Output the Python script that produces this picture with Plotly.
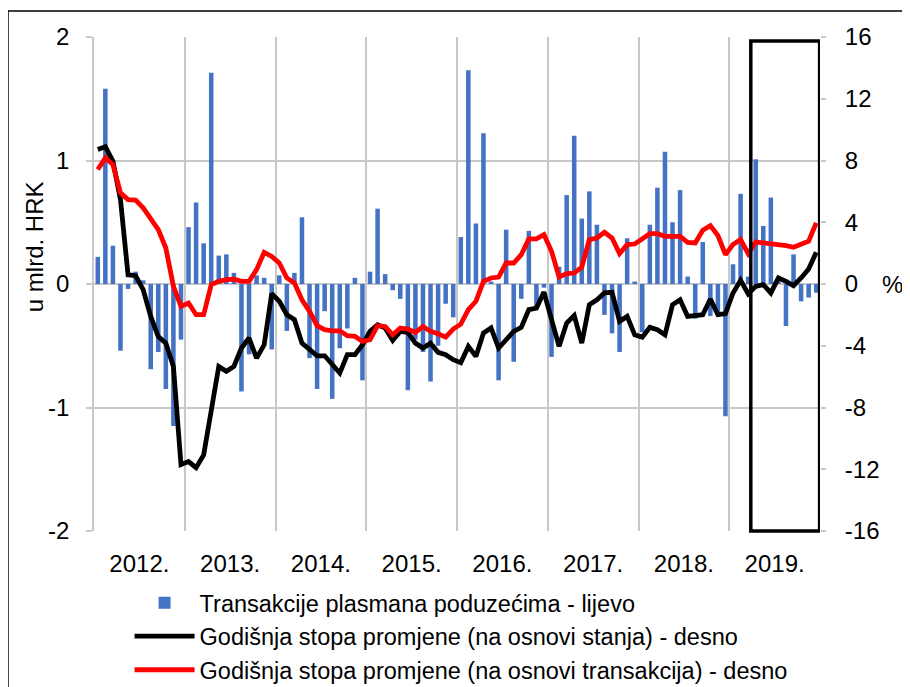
import plotly.graph_objects as go

years = ["2012.", "2013.", "2014.", "2015.", "2016.", "2017.", "2018.", "2019."]

# Monthly transactions of loans to enterprises, HRK bn (left axis)
transakcije = [
    0.22, 1.58, 0.31, -0.54, -0.04, 0.10, 0.03, -0.69, -0.55, -0.85, -1.15, -0.45,
    0.46, 0.66, 0.33, 1.71, 0.23, 0.24, 0.09, -0.87, -0.57, 0.07, 0.05, -0.53,
    0.07, -0.38, 0.09, 0.54, -0.60, -0.85, -0.22, -0.93, -0.52, -0.36, 0.05, -0.78,
    0.10, 0.61, 0.08, -0.05, -0.12, -0.86, -0.45, -0.55, -0.79, -0.50, -0.16, -0.27,
    0.38, 1.73, 0.49, 1.22, 0.02, -0.78, 0.44, -0.63, -0.12, 0.43, -0.18, -0.03,
    -0.59, 0.14, 0.72, 1.20, 0.53, 0.75, 0.48, -0.25, -0.40, -0.55, 0.37, 0.02,
    -0.39, 0.48, 0.78, 1.07, 0.50, 0.76, 0.06, -0.28, 0.34, -0.26, -0.25, -1.07,
    0.16, 0.73, 0.06, 1.01, 0.47, 0.70, 0.02, -0.34, 0.24, -0.14, -0.11, -0.07,
]

# Annual rate of change based on stocks, % (right axis)
stopa_stanja = [
    8.71, 8.89, 7.96, 5.47, 0.60, 0.54, -0.37, -2.10, -3.40, -3.83, -5.34, -11.70,
    -11.50, -11.90, -11.07, -8.15, -5.34, -5.66, -5.34, -4.15, -3.50, -4.80, -3.94, -0.62,
    -1.12, -1.99, -2.31, -3.83, -4.26, -4.65, -4.65, -5.23, -5.77, -4.58, -4.58, -3.94,
    -3.07, -2.64, -2.85, -3.65, -3.07, -3.14, -3.83, -4.15, -3.83, -4.43, -4.58, -4.90,
    -5.10, -4.04, -4.69, -3.18, -2.85, -4.15, -3.61, -3.07, -2.81, -1.66, -1.56, -0.52,
    -2.31, -4.04, -2.53, -2.05, -3.83, -1.34, -1.02, -0.58, -0.54, -2.42, -2.10, -3.29,
    -3.44, -2.81, -2.96, -3.29, -1.34, -1.02, -2.10, -2.05, -1.99, -0.97, -1.99, -1.92,
    -0.58, 0.24, -0.63, -0.15, -0.04, -0.58, 0.39, 0.17, -0.11, 0.39, 0.97, 2.05,
]

# Annual rate of change based on transactions, % (right axis)
stopa_transakcija = [
    7.42, 8.17, 7.74, 5.90, 5.47, 5.43, 4.93, 4.28, 3.52, 2.33, -0.15, -1.45,
    -1.23, -1.99, -1.99, -0.04, 0.17, 0.28, 0.32, 0.17, 0.17, 0.93, 2.05, 1.79,
    1.36, 0.39, 0.06, -1.02, -1.77, -2.70, -2.96, -3.03, -3.03, -3.35, -3.39, -3.72,
    -3.61, -2.70, -2.75, -3.29, -2.85, -2.92, -3.14, -2.75, -3.07, -3.22, -3.44, -2.92,
    -2.60, -1.66, -1.12, 0.17, 0.39, 0.45, 1.36, 1.36, 1.90, 2.92, 2.92, 3.20,
    2.12, 0.45, 0.67, 0.71, 1.10, 2.88, 2.98, 3.35, 2.98, 1.97, 2.55, 2.59,
    2.92, 3.26, 3.26, 3.09, 3.09, 3.09, 2.70, 2.66, 3.48, 3.78, 3.14, 1.90,
    2.55, 2.88, 1.97, 2.72, 2.66, 2.62, 2.55, 2.49, 2.38, 2.55, 2.77, 3.96,
]

left_ticks = [-2, -1, 0, 1, 2]
left_tick_labels = ["-2", "-1", "0", "1", "2"]
right_ticks = [-16, -12, -8, -4, 0, 4, 8, 12, 16]
right_tick_labels = ["-16", "-12", "-8", "-4", "0", "4", "8", "12", "16"]

n = len(transakcije)
x = list(range(n))
year_centers = [12 * i + 5.5 for i in range(len(years))]
highlight_start = 86.35  # highlighted 2019 period (box)

FONT = "Liberation Sans, Arial, sans-serif"
GRID = "#c8c8c8"

fig = go.Figure()
fig.add_trace(go.Bar(
    x=x, y=transakcije, name="Transakcije plasmana poduzećima - lijevo",
    marker=dict(color="#4472C4", line=dict(width=0)), width=0.6, yaxis="y",
))
fig.add_trace(go.Scatter(
    x=x, y=stopa_stanja, name="Godišnja stopa promjene (na osnovi stanja) - desno",
    mode="lines", line=dict(color="#000000", width=4.8), yaxis="y2",
))
fig.add_trace(go.Scatter(
    x=x, y=stopa_transakcija, name="Godišnja stopa promjene (na osnovi transakcija) - desno",
    mode="lines", line=dict(color="#FF0000", width=4.8), yaxis="y2",
))

# page has an 8px body margin, so the figure is 8px smaller than the window
fig.update_layout(
    width=902, height=679,
    margin=dict(l=86, r=90, t=29, b=156, autoexpand=False),
    paper_bgcolor="white", plot_bgcolor="white",
    font=dict(family=FONT, size=24, color="black"),
    showlegend=True,
    bargap=0.4,
    xaxis=dict(
        range=[-0.5, n - 0.5],
        tickmode="array", tickvals=year_centers, ticktext=years,
        showgrid=False, zeroline=False, showline=False, ticks="",
        ticklabelstandoff=16,
        tickfont=dict(size=24), automargin=False,
        minor=dict(tick0=-0.5, dtick=12, showgrid=True, gridcolor=GRID, gridwidth=1.5, ticks=""),
    ),
    yaxis=dict(
        range=[-2, 2], tickmode="array", tickvals=left_ticks, ticktext=left_tick_labels,
        showgrid=True, gridcolor=GRID, gridwidth=1.5,
        zeroline=True, zerolinecolor=GRID, zerolinewidth=1.5,
        showline=True, linecolor=GRID, linewidth=1.5,
        ticks="outside", ticklen=6, tickcolor=GRID, tickwidth=1.5,
        ticklabelstandoff=12, automargin=False,
        tickfont=dict(size=24),
    ),
    yaxis2=dict(
        range=[-16, 16], tickmode="array", tickvals=right_ticks, ticktext=right_tick_labels,
        overlaying="y", side="right",
        showgrid=False, zeroline=False, showline=False,
        ticks="outside", ticklen=5, tickcolor=GRID, tickwidth=1.5,
        ticklabelstandoff=14, automargin=False,
        tickfont=dict(size=24),
    ),
    legend=dict(
        x=0.049, y=-0.101, xanchor="left", yanchor="top",
        orientation="v", font=dict(size=23.5), itemwidth=60,
        bgcolor="rgba(0,0,0,0)", tracegroupgap=0,
    ),
    shapes=[
        dict(type="rect", xref="x", yref="paper",
             x0=highlight_start, x1=n - 0.55, y0=0.0, y1=0.992,
             line=dict(color="black", width=3.5), fillcolor="rgba(0,0,0,0)", layer="above"),
        dict(type="rect", xref="paper", yref="paper",
             x0=-0.1185, x1=1.3, y0=-0.5, y1=1.0526,
             line=dict(color="black", width=1.5), fillcolor="rgba(0,0,0,0)", layer="above"),
    ],
    annotations=[
        dict(text="u mlrd. HRK", xref="paper", yref="paper",
             x=-0.081, y=0.575, textangle=-90, showarrow=False,
             font=dict(size=24), xanchor="center", yanchor="middle"),
        dict(text="%", xref="paper", yref="paper",
             x=1.1, y=0.5, showarrow=False,
             font=dict(size=24), xanchor="center", yanchor="middle"),
    ],
)

fig.write_html("out.html")
